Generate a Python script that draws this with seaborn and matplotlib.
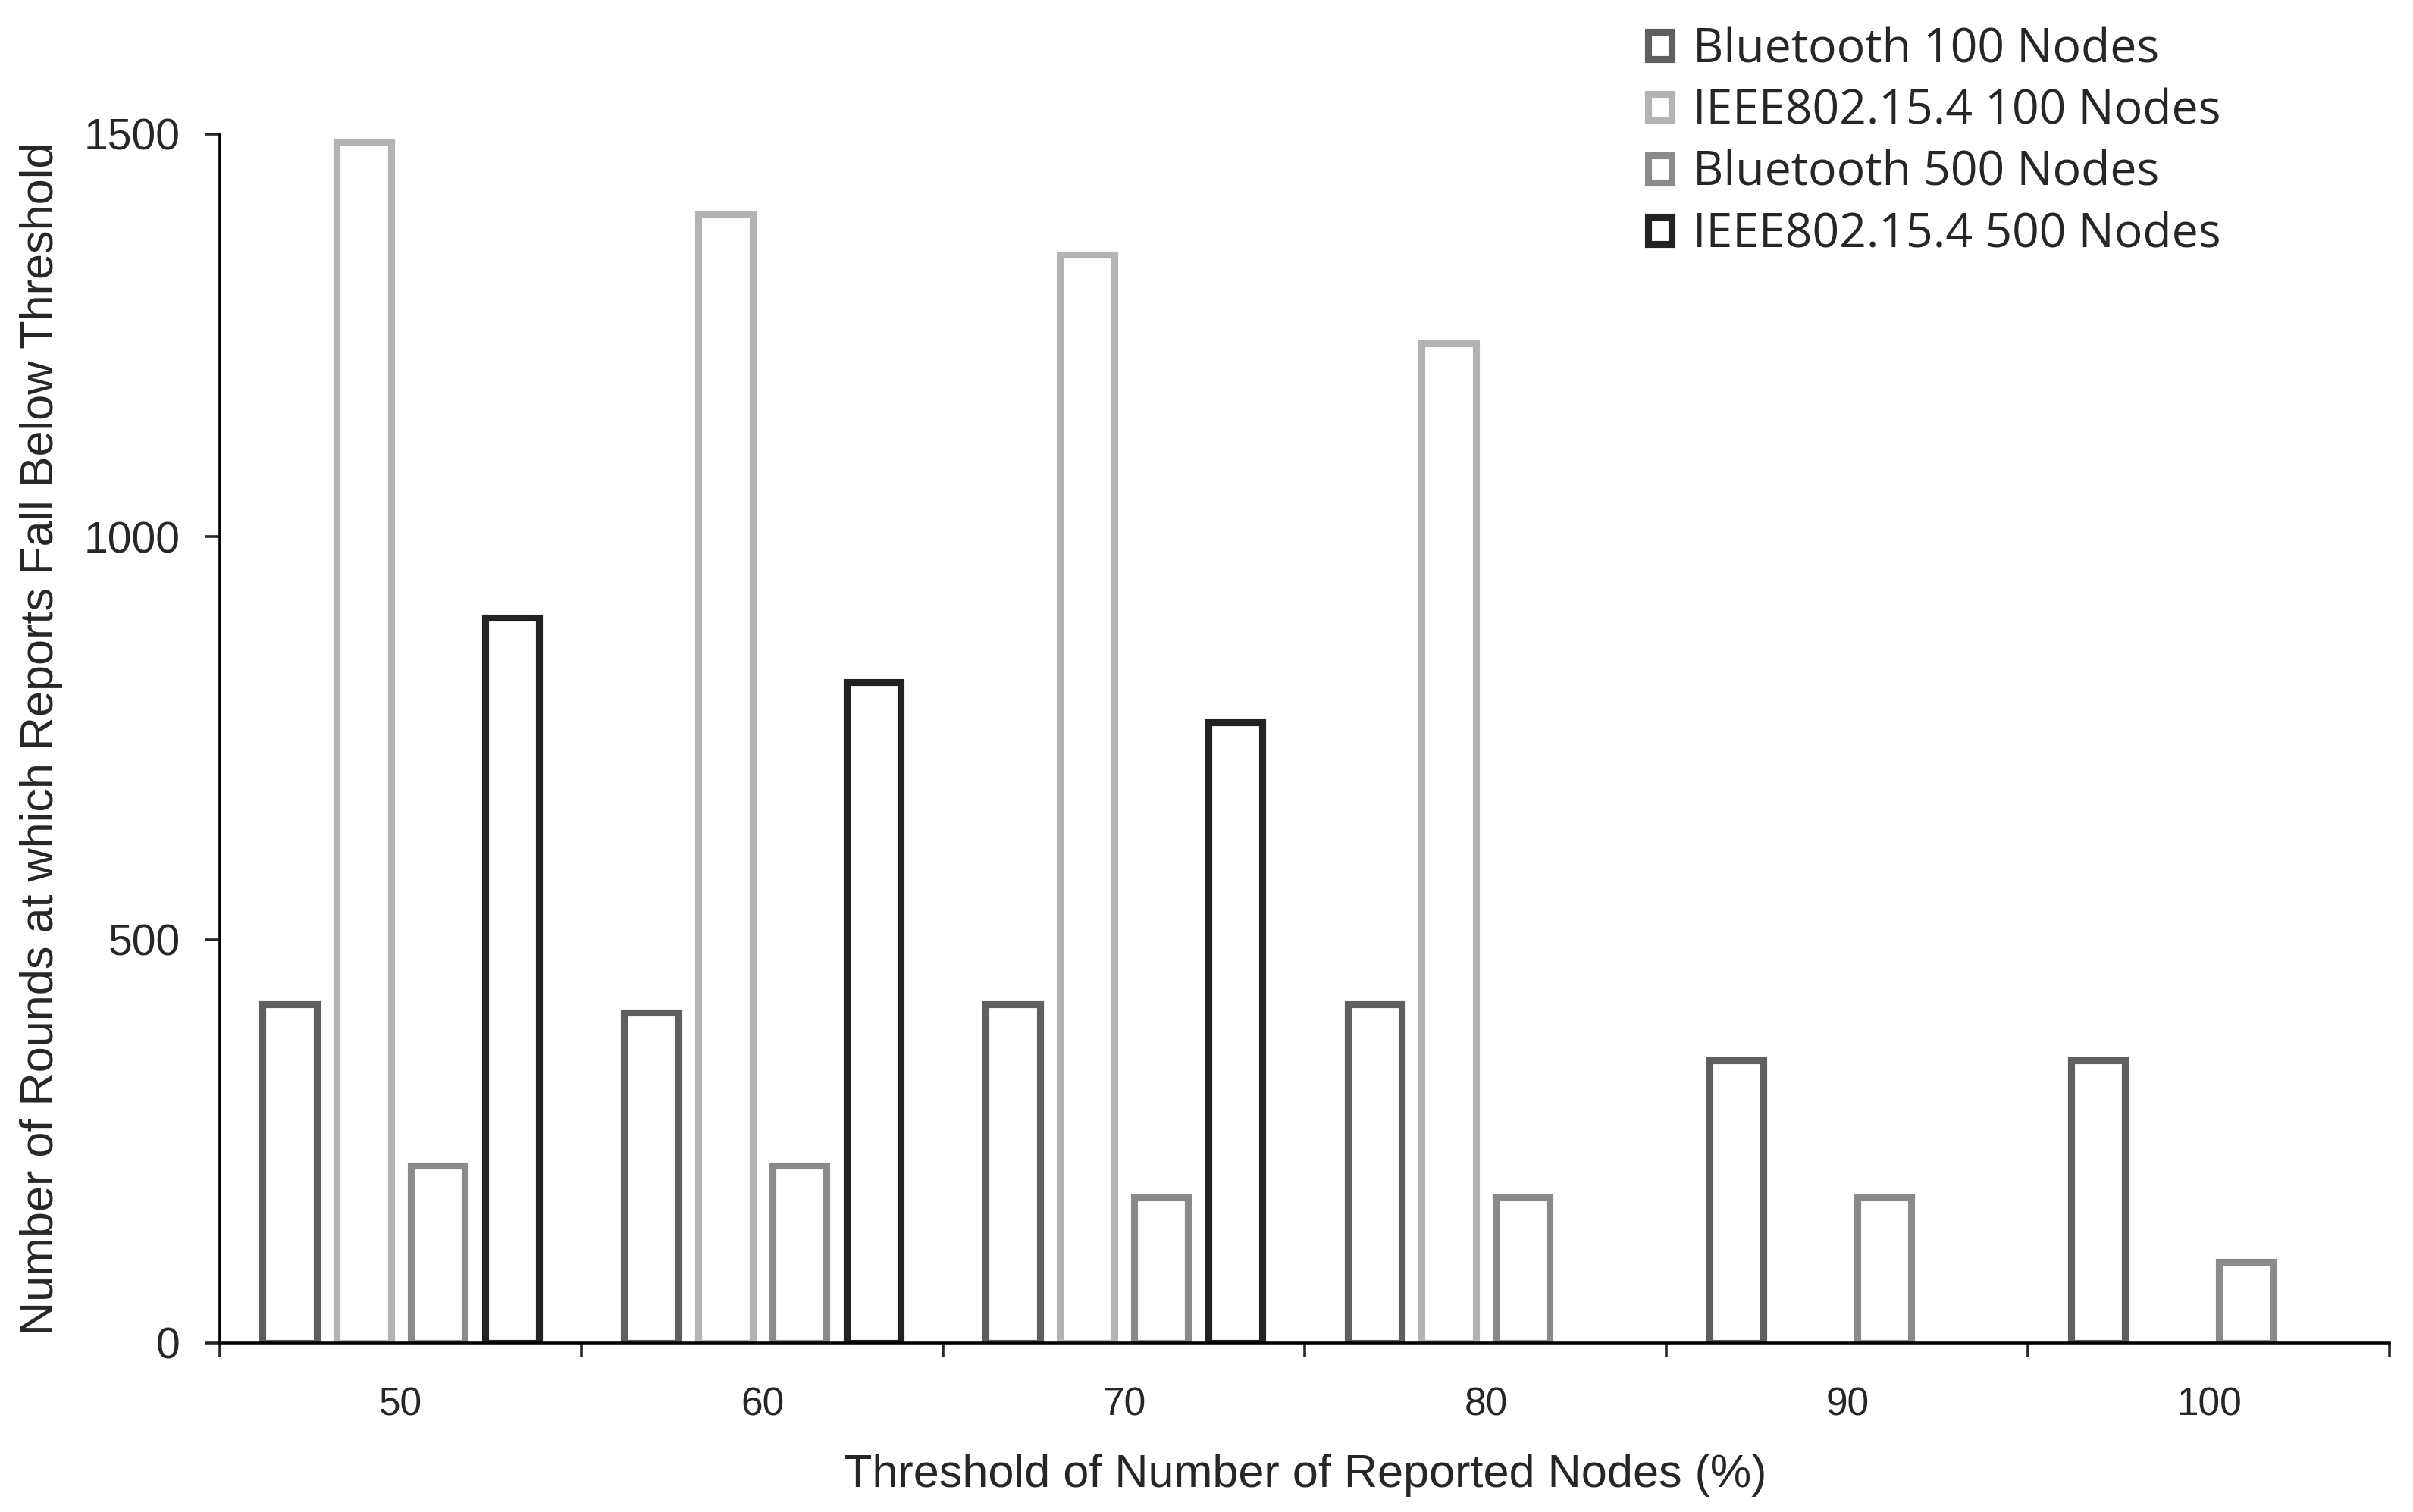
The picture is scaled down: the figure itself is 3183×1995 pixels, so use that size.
import numpy as np
import pandas as pd
import matplotlib
matplotlib.use("Agg")
import matplotlib.pyplot as plt
import seaborn as sns

sns.set_style("ticks")

# Data
thresholds = ["50", "60", "70", "80", "90", "100"]
series = ["Bluetooth 100 Nodes", "IEEE802.15.4 100 Nodes",
          "Bluetooth 500 Nodes", "IEEE802.15.4 500 Nodes"]
bt_100 = [420, 410, 420, 420, 350, 350]
ieee_100 = [1490, 1400, 1350, 1240, np.nan, np.nan]
bt_500 = [220, 220, 180, 180, 180, 100]
ieee_500 = [900, 820, 770, np.nan, np.nan, np.nan]
colors = ["#5f5f5f", "#b3b3b3", "#8a8a8a", "#222222"]

df = pd.DataFrame({"Threshold": thresholds * 4,
                   "Series": np.repeat(series, len(thresholds)),
                   "Rounds": bt_100 + ieee_100 + bt_500 + ieee_500})

fig = plt.figure(figsize=(15.915, 9.975), dpi=200)
ax = fig.add_axes([0.0912, 0.112, 0.8992, 0.7995])

sns.barplot(data=df, x="Threshold", y="Rounds", hue="Series",
            hue_order=series, order=thresholds, palette=colors,
            fill=False, linewidth=3.3, width=0.82, gap=0.27,
            errorbar=None, ax=ax, legend=False)

# Axes
ax.set_ylim(0, 1500)
ax.set_xlim(-0.5, 5.5)
ax.set_yticks([0, 500, 1000, 1500])
ax.set_yticklabels(["0", "500", "1000", "1500"], family="Liberation Sans", fontsize=20.5)
ax.set_xticks(range(6))
ax.set_xticklabels(thresholds, family="Liberation Sans", fontsize=18.5)
ax.set_xticks(np.arange(-0.5, 6, 1), minor=True)
ax.tick_params(axis="x", which="major", length=0, pad=21)
ax.tick_params(axis="x", which="minor", length=7, width=1.3, direction="out")
ax.tick_params(axis="y", length=7, width=1.3, direction="out", pad=12)
sns.despine(ax=ax)
for sp in ["left", "bottom"]:
    ax.spines[sp].set_linewidth(1.3)
    ax.spines[sp].set_color("black")

ax.set_xlabel("Threshold of Number of Reported Nodes (%)", family="Liberation Sans",
              fontsize=22, labelpad=14)
ax.set_ylabel("Number of Rounds at which Reports Fall Below Threshold",
              family="Liberation Sans", fontsize=22, labelpad=10)

# Legend
handles = [plt.Rectangle((0, 0), 1, 1, facecolor="white", edgecolor=c, linewidth=3.3)
           for c in colors]
fig.legend(handles, series, loc="upper left", bbox_to_anchor=(0.675, 0.995),
           frameon=False, prop={"family": "Open Sans", "size": 22.5},
           handlelength=0.5, handleheight=0.5, handletextpad=0.45,
           labelspacing=0.3, borderaxespad=0)

fig.savefig("out.png", dpi=200, facecolor="white")
